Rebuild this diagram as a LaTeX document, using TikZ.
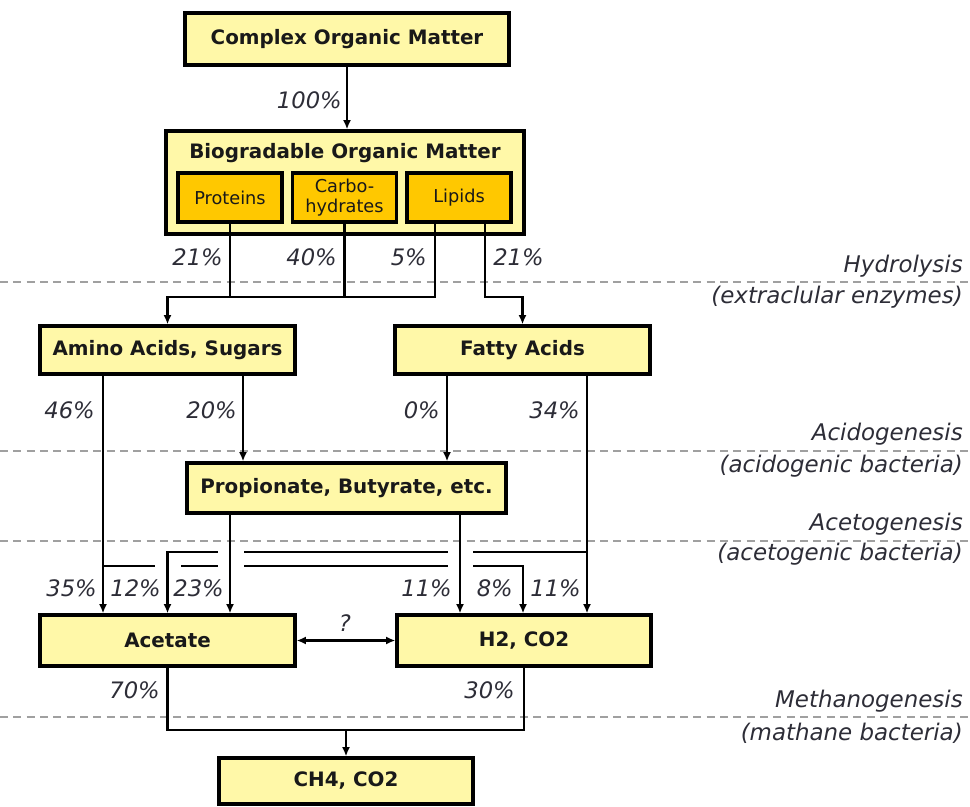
\documentclass[tikz,border=0pt]{standalone}
\usepackage{fontspec}
\setmainfont{DejaVu Sans}
\usetikzlibrary{arrows.meta}
\definecolor{boxfill}{RGB}{255,248,168}
\definecolor{innerfill}{RGB}{255,200,0}
\definecolor{dashgray}{RGB}{160,160,160}
\definecolor{labtext}{RGB}{45,45,55}
\begin{document}
\begin{tikzpicture}[x=0.75pt,y=-0.75pt,
  box/.style={draw=black, line width=2.4pt, fill=boxfill, font=\fontsize{14.9}{17}\selectfont\bfseries, text=black!90, inner sep=0pt},
  innerbox/.style={draw=black, line width=2.4pt, fill=innerfill, font=\fontsize{13.3}{15.5}\selectfont, text=black!90, align=center, inner sep=0pt, minimum width=78pt, minimum height=36.75pt},
  conn/.style={line width=1.7pt, draw=black},
  arr/.style={conn, -{Latex[length=7pt,width=6pt]}},
  dblarr/.style={conn, {Latex[length=7pt,width=6pt]}-{Latex[length=7pt,width=6pt]}},
  pct/.style={font=\fontsize{17}{20}\selectfont\itshape, text=labtext, inner sep=0pt},
  stage/.style={font=\fontsize{17.2}{20}\selectfont\itshape, text=labtext, inner sep=0pt, anchor=base east},
  sep/.style={draw=dashgray, line width=1.1pt, dash pattern=on 6pt off 4pt},
  gapfill/.style={fill=white, draw=none}
]
\useasboundingbox (0,0) rectangle (970,806);

% separators
\draw[sep] (0,282) -- (970,282);
\draw[sep] (0,451) -- (970,451);
\draw[sep] (0,541) -- (970,541);
\draw[sep] (0,717) -- (970,717);

% stage labels
\node[stage] (s1a) at (963,272) {Hydrolysis};
\node[stage] (s1b) at (963,303) {(extraclular enzymes)};
\node[stage] (s2a) at (963,440) {Acidogenesis};
\node[stage] (s2b) at (963,472) {(acidogenic bacteria)};
\node[stage] (s3a) at (963,530) {Acetogenesis};
\node[stage] (s3b) at (963,560) {(acetogenic bacteria)};
\node[stage] (s4a) at (963,707) {Methanogenesis};
\node[stage] (s4b) at (963,740) {(mathane bacteria)};

% boxes
\node[box, minimum width=243pt, minimum height=39pt] (com) at (347,39) {Complex Organic Matter};
\node[box, minimum width=268.5pt, minimum height=77.25pt] (bom) at (345,182.5) {};
\node[font=\fontsize{14.9}{17}\selectfont\bfseries, text=black!90, inner sep=0pt] (bomt) at (345,153) {Biogradable Organic Matter};
\node[innerbox] (prot) at (230,197.5) {Proteins};
\node[innerbox] (carb) at (344.5,197.5) {Carbo-\\hydrates};
\node[innerbox] (lip) at (459,197.5) {Lipids};
\node[box, minimum width=191.25pt, minimum height=36pt] (amino) at (167.5,350) {Amino Acids, Sugars};
\node[box, minimum width=191.25pt, minimum height=36pt] (fatty) at (522.5,350) {Fatty Acids};
\node[box, minimum width=239.25pt, minimum height=37.5pt] (prop) at (346.5,488) {Propionate, Butyrate, etc.};
\node[box, minimum width=191.25pt, minimum height=38.25pt] (acet) at (167.5,640.5) {Acetate};
\node[box, minimum width=190.5pt, minimum height=38.25pt] (h2) at (524,640.5) {H2, CO2};
\node[box, minimum width=190.5pt, minimum height=34.5pt] (ch4) at (346,781) {CH4, CO2};

% named x / y positions
\coordinate (xla) at (435,0);
\coordinate (xlb) at (485,0);
\coordinate (hj) at (0,297);
\coordinate (x46) at (103,0);
\coordinate (x20) at (243,0);
\coordinate (x0) at (447,0);
\coordinate (x34) at (587,0);
\coordinate (x23) at (230,0);
\coordinate (x11) at (460,0);
\coordinate (x8) at (523,0);
\coordinate (yup) at (0,552);
\coordinate (ylo) at (0,566);
\coordinate (mj) at (346,730);

% complex -> biodegradable
\draw[arr] (com.south) -- (com.south |- bom.north);

% hydrolysis
\draw[conn] (prot.south) -- (prot.south |- hj);
\draw[conn] (carb.south) -- (carb.south |- hj);
\draw[arr] (lip.south -| xla) -- (xla |- hj) -| (amino.north);
\draw[arr] (lip.south -| xlb) -- (xlb |- hj) -| (fatty.north);

% acidogenesis
\draw[arr] (amino.south -| x46) -- (acet.north -| x46);
\draw[arr] (amino.south -| x20) -- (prop.north -| x20);
\draw[arr] (fatty.south -| x0) -- (prop.north -| x0);
\draw[arr] (fatty.south -| x34) -- (h2.north -| x34);

% acetogenesis cross-overs
\draw[arr] (x46 |- ylo) -| (h2.north -| x8);
\fill[gapfill] (154.5,561) rectangle (180.5,571);
\draw[arr] (x34 |- yup) -| (acet.north);
\fill[gapfill] (217.5,547) rectangle (243.5,571);
\fill[gapfill] (447.5,547) rectangle (472.5,571);
\draw[arr] (prop.south -| x23) -- (acet.north -| x23);
\draw[arr] (prop.south -| x11) -- (h2.north -| x11);

% acetate <-> H2
\draw[dblarr] (acet.east) -- (h2.west);

% methanogenesis
\draw[conn] (acet.south) |- (mj) -| (h2.south);
\draw[arr] (mj) -- (ch4.north);

% percentages
\node[pct, anchor=east] (p100) at (342,100) {100\%};
\node[pct, anchor=east] (p21a) at (223,257) {21\%};
\node[pct, anchor=east] (p40) at (337,257) {40\%};
\node[pct, anchor=east] (p5) at (427,257) {5\%};
\node[pct, anchor=west] (p21b) at (493,257) {21\%};
\node[pct, anchor=east] (p46) at (95,410) {46\%};
\node[pct, anchor=east] (p20) at (237,410) {20\%};
\node[pct, anchor=east] (p0) at (440,410) {0\%};
\node[pct, anchor=east] (p34) at (580,410) {34\%};
\node[pct, anchor=east] (p35) at (97,588) {35\%};
\node[pct, anchor=east] (p12) at (161,588) {12\%};
\node[pct, anchor=east] (p23) at (224,588) {23\%};
\node[pct, anchor=east] (p11a) at (452,588) {11\%};
\node[pct, anchor=east] (p8) at (513,588) {8\%};
\node[pct, anchor=east] (p11b) at (581,588) {11\%};
\node[pct] (q) at (345,623) {?};
\node[pct, anchor=east] (p70) at (160,690) {70\%};
\node[pct, anchor=east] (p30) at (515,690) {30\%};
\end{tikzpicture}
\end{document}
